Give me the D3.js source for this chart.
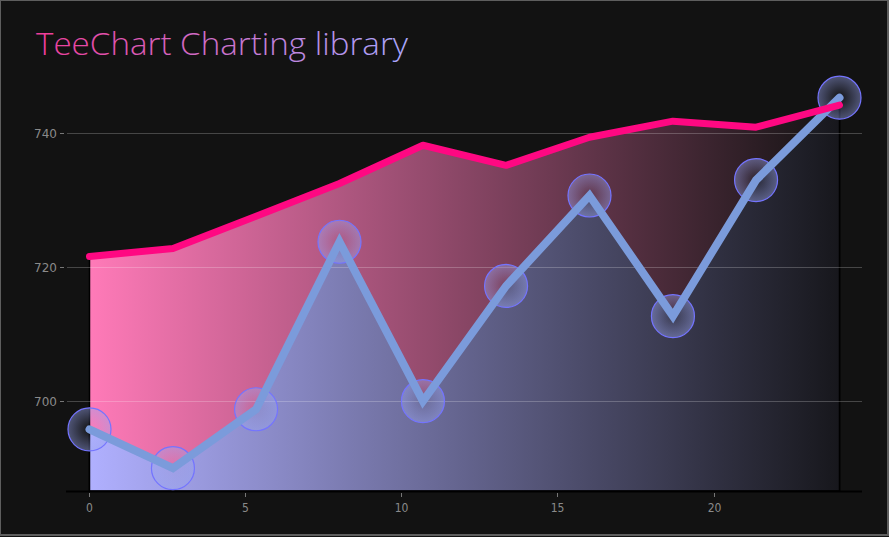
<!DOCTYPE html>
<html>
<head>
<meta charset="utf-8">
<script src="https://cdn.jsdelivr.net/npm/d3@7"></script>
<style>
html,body{margin:0;padding:0;background:#121212;}
svg{display:block;}
</style>
</head>
<body>
<svg id="chart" width="889" height="537"></svg>
<script>
// ---- data ----
const title = "TeeChart Charting library";
const xValues = [0, 2.67, 5.33, 8, 10.67, 13.33, 16, 18.67, 21.33, 24];
const blueValues = [695.8, 690.0, 698.8, 723.8, 700.0, 717.2, 730.7, 712.7, 733.0, 745.3];
const pinkValues = [721.6, 722.8, 727.6, 732.5, 738.2, 735.2, 739.4, 741.8, 740.9, 744.2];
const xTicks = [0, 5, 10, 15, 20];
const yTicks = [700, 720, 740];

const W = 889, H = 537;
const svg = d3.select("#chart");
const defs = svg.append("defs");

// background + frame
svg.append("rect").attr("x",0).attr("y",0).attr("width",W).attr("height",H).attr("fill","#121212");
svg.append("rect").attr("x",0).attr("y",0).attr("width",888).attr("height",535)
  .attr("fill","none").attr("stroke","#5e5e5e").attr("stroke-width",2);

const x = d3.scaleLinear().domain([0,24]).range([89.5,839.5]);
const y = d3.scaleLinear().domain([686.6,747.3]).range([491,84.3]);

// gradients
function hGrad(id, stops){
  const g = defs.append("linearGradient").attr("id",id)
    .attr("gradientUnits","userSpaceOnUse")
    .attr("x1",x(0)).attr("x2",x(24)).attr("y1",0).attr("y2",0);
  stops.forEach(s=>g.append("stop").attr("offset",s[0]).attr("stop-color",s[1]).attr("stop-opacity",s[2]));
}
hGrad("pinkArea", [[0,"#ff7ab8",1],[1,"#ff7ab8",0]]);
hGrad("blueArea", [[0,"#b0b0ff",1],[1,"#17171c",1]]);

const tg = defs.append("linearGradient").attr("id","titleGrad")
  .attr("gradientUnits","userSpaceOnUse").attr("x1",36).attr("x2",408).attr("y1",0).attr("y2",0);
tg.append("stop").attr("offset",0).attr("stop-color","#f03c98");
tg.append("stop").attr("offset",1).attr("stop-color","#a6a8ff");

const rg = defs.append("radialGradient").attr("id","markerGrad");
rg.append("stop").attr("offset",0).attr("stop-color","#9aa6f0").attr("stop-opacity",0);
rg.append("stop").attr("offset",1).attr("stop-color","#9aa6f0").attr("stop-opacity",0.45);

const pinkData = xValues.map((v,i)=>({x:v,y:pinkValues[i]}));
const blueData = xValues.map((v,i)=>({x:v,y:blueValues[i]}));

const area = d3.area().x(d=>x(d.x)).y0(y.range()[0]).y1(d=>y(d.y));
const line = d3.line().x(d=>x(d.x)).y(d=>y(d.y));

svg.append("path").datum(pinkData).attr("d",area).attr("fill","url(#pinkArea)")
  .attr("stroke","#000").attr("stroke-width",1.5);
svg.append("path").datum(blueData).attr("d",area).attr("fill","url(#blueArea)")
  .attr("stroke","#000").attr("stroke-width",1.5);

// grid lines + y ticks
const yAxis = svg.append("g");
yTicks.forEach(t=>{
  const yy = Math.round(y(t))+0.5;
  yAxis.append("line").attr("x1",67).attr("x2",862).attr("y1",yy).attr("y2",yy)
    .attr("stroke","#ffffff").attr("stroke-opacity",0.22).attr("stroke-width",1);
  yAxis.append("line").attr("x1",60).attr("x2",64).attr("y1",yy).attr("y2",yy)
    .attr("stroke","#777").attr("stroke-width",1);
  yAxis.append("text").attr("x",57).attr("y",yy+4.5).attr("text-anchor","end")
    .attr("font-family","DejaVu Sans, sans-serif").attr("font-size",12).attr("fill","#8a8a8a").text(t);
});

// x axis
svg.append("line").attr("x1",66).attr("x2",862).attr("y1",491.5).attr("y2",491.5)
  .attr("stroke","#000").attr("stroke-width",2);
const xAxis = svg.append("g");
xTicks.forEach(t=>{
  const xx = Math.round(x(t))-0.5;
  xAxis.append("line").attr("x1",xx).attr("x2",xx).attr("y1",493).attr("y2",497)
    .attr("stroke","#777").attr("stroke-width",1);
  xAxis.append("text").attr("x",xx).attr("y",512).attr("text-anchor","middle")
    .attr("font-family","DejaVu Sans Condensed, DejaVu Sans, sans-serif").attr("font-size",12).attr("fill","#8a8a8a").text(t);
});

// markers
svg.append("g").selectAll("circle").data(blueData).join("circle")
  .attr("cx",d=>x(d.x)).attr("cy",d=>y(d.y)).attr("r",21.5)
  .attr("fill","url(#markerGrad)").attr("stroke","#7474ff").attr("stroke-width",1.2);

// lines
svg.append("path").datum(blueData).attr("d",line).attr("fill","none")
  .attr("stroke","#7b9bdb").attr("stroke-width",8).attr("stroke-linecap","round").attr("stroke-linejoin","miter");
svg.append("path").datum(pinkData).attr("d",line).attr("fill","none")
  .attr("stroke","#ff0882").attr("stroke-width",7).attr("stroke-linecap","round").attr("stroke-linejoin","round");

// title
svg.append("text").attr("x",36).attr("y",55)
  .attr("font-family","Open Sans, sans-serif").attr("font-weight",300).attr("font-size",31)
  .attr("textLength",372).attr("lengthAdjust","spacingAndGlyphs")
  .attr("fill","url(#titleGrad)").text(title);
</script>
</body>
</html>
